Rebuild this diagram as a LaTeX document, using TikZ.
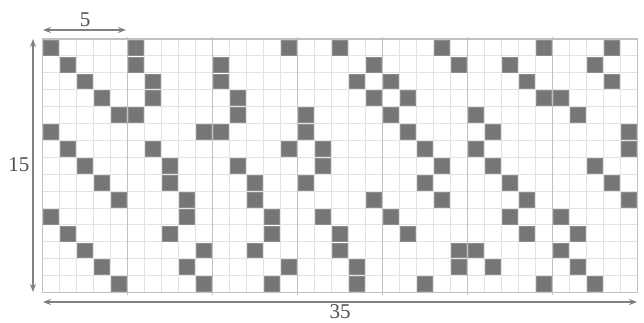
\documentclass[tikz,border=0pt]{standalone}
\usepackage{fontspec}
\setmainfont{Liberation Serif}
\usetikzlibrary{arrows.meta}
\definecolor{minorgrid}{RGB}{226,226,226}
\definecolor{majorgrid}{RGB}{192,192,192}
\definecolor{cellfill}{RGB}{118,118,118}
\definecolor{celledge}{RGB}{140,140,140}
\definecolor{dimcol}{RGB}{128,128,128}
\definecolor{labcol}{RGB}{80,80,80}
\tikzset{
 minorline/.style={draw=minorgrid,line width=1pt},
 majorline/.style={draw=majorgrid,line width=1.7pt},
 cellbox/.style={fill=cellfill,draw=celledge,line width=0.5pt},
 dimarrow/.style={draw=dimcol,line width=1.4pt,{Stealth[length=8pt,width=6pt]}-{Stealth[length=8pt,width=6pt]}},
 dimlabel/.style={text=labcol,font=\fontsize{21}{25}\selectfont,inner sep=0pt}
}
\begin{document}
\begin{tikzpicture}[x=1pt,y=-1pt]
\def\X{42.5}\def\Y{39}\def\W{17}\def\H{16.9}
\useasboundingbox (0,0) rectangle (644,322);
\fill[white] (0,0) rectangle (644,322);
% minor grid lines
\foreach \i in {1,...,34} \draw[minorline] ({\X+\i*\W},\Y) -- ({\X+\i*\W},{\Y+15*\H});
\foreach \j in {1,...,14} \draw[minorline] (\X,{\Y+\j*\H}) -- ({\X+35*\W},{\Y+\j*\H});
% filled cells: column / three rows
\foreach \c/\a/\b/\d in {0/0/5/10,1/1/6/11,2/2/7/12,3/3/8/13,4/4/9/14,
  5/0/1/4,6/2/3/6,7/7/8/11,8/9/10/13,9/5/12/14,
  10/1/2/5,11/3/4/7,12/8/9/12,13/10/11/14,14/0/6/13,
  15/4/5/8,16/6/7/10,17/0/11/12,18/2/13/14,19/1/3/9,
  20/2/4/10,21/3/5/11,22/6/8/14,23/0/7/9,24/1/12/13,
  25/4/6/12,26/5/7/13,27/1/8/10,28/2/9/11,29/0/3/14,
  30/3/10/12,31/4/11/13,32/1/7/14,33/0/2/8,34/5/6/9}{
  \foreach \r in {\a,\b,\d}
    \filldraw[cellbox] ({\X+\c*\W+1},{\Y+\r*\H+1}) rectangle ({\X+(\c+1)*\W-1},{\Y+(\r+1)*\H-1});
}
% major lines and border
\foreach \i in {5,10,...,30} \draw[majorline] ({\X+\i*\W},{\Y-2.5}) -- ({\X+\i*\W},{\Y+15*\H+2.5});
\draw[majorline] (\X,\Y) rectangle ({\X+35*\W},{\Y+15*\H});
% dimension arrows
\coordinate (topL) at (43,30);
\coordinate (topR) at (126,30);
\coordinate (leftT) at (33,39);
\coordinate (leftB) at (33,292);
\coordinate (botL) at (43,302);
\coordinate (botR) at (637,302);
\draw[dimarrow] (topL) -- (topR);
\draw[dimarrow] (leftT) -- (leftB);
\draw[dimarrow] (botL) -- (botR);
\node[dimlabel] (five) at (85,20) {5};
\node[dimlabel] (fifteen) at (19,164.5) {15};
\node[dimlabel] (thirtyfive) at (340,311.5) {35};
\end{tikzpicture}
\end{document}
